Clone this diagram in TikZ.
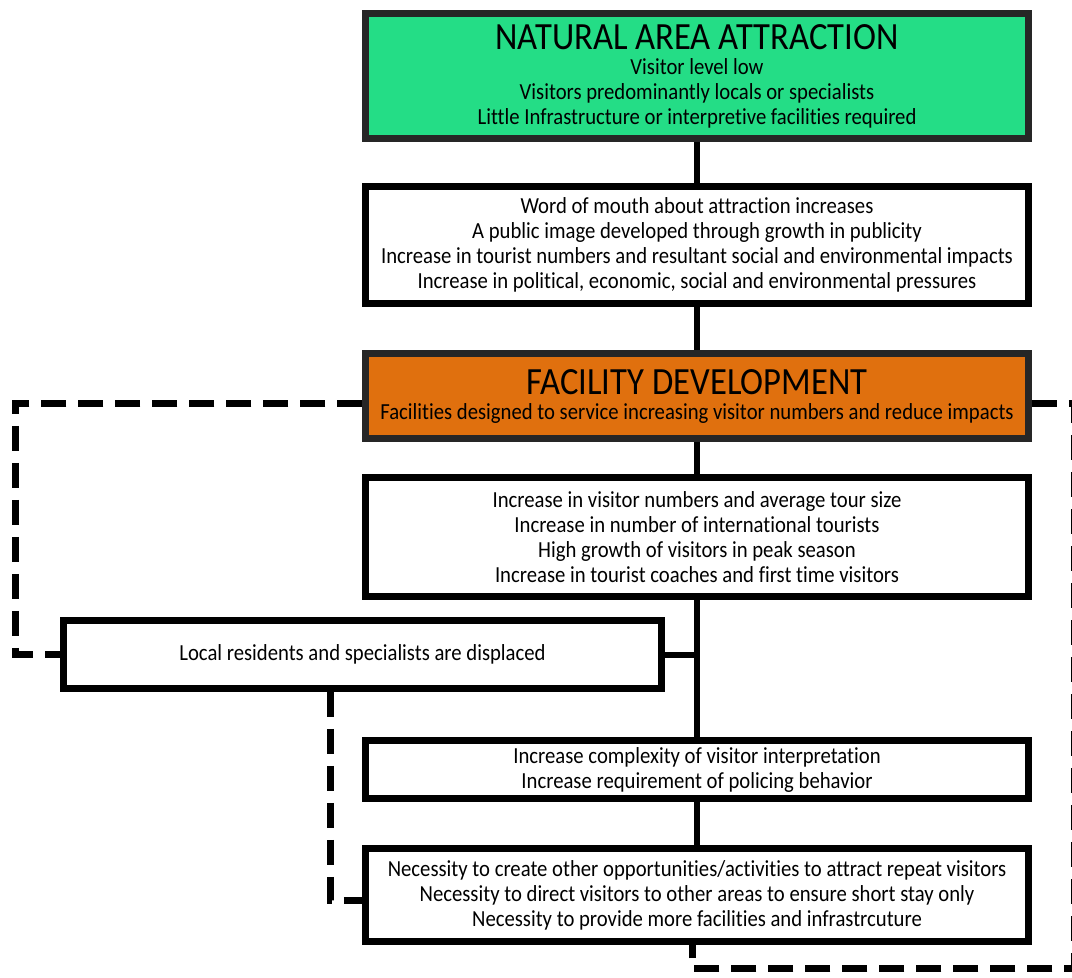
\documentclass[tikz,border=0pt]{standalone}
\usepackage{fontspec}
\setmainfont{Carlito}[FakeStretch=0.9, Ligatures=NoCommon]
\usetikzlibrary{positioning}

\definecolor{natgreen}{RGB}{36,221,134}
\definecolor{devorange}{RGB}{224,112,14}

\tikzset{
  box/.style={draw=black, line width=6.5pt, fill=white, align=center, inner sep=0pt,
    minimum width=663pt, font=\fontsize{23}{25}\selectfont},
  link/.style={line width=6pt},
  dashlink/.style={line width=7pt, dash pattern=on 25pt off 12pt}
}
\newcommand{\boxtitle}[1]{{\fontsize{38.5}{38}\selectfont #1}}

\begin{document}
\begin{tikzpicture}[x=1pt,y=-1pt]
  \useasboundingbox (0,0) rectangle (1072,978);
  \fill[white] (0,0) rectangle (1072,978);

  \node[box, fill=natgreen, draw=black!85, minimum height=125pt] (nat) at (697,76)
    {\boxtitle{NATURAL AREA ATTRACTION}\\Visitor level low\\Visitors predominantly locals or specialists\\Little Infrastructure or interpretive facilities required};
  \node[box, minimum height=117pt] (word) at (697,245)
    {Word of mouth about attraction increases\\A public image developed through growth in publicity\\Increase in tourist numbers and resultant social and environmental impacts\\Increase in political, economic, social and environmental pressures};
  \node[box, fill=devorange, draw=black!85, minimum height=85pt] (dev) at (697,396)
    {\boxtitle{FACILITY DEVELOPMENT}\\Facilities designed to service increasing visitor numbers and reduce impacts};
  \node[box, minimum height=119pt] (growth) at (697,537)
    {Increase in visitor numbers and average tour size\\Increase in number of international tourists\\High growth of visitors in peak season\\Increase in tourist coaches and first time visitors};
  \node[box, minimum width=598pt, minimum height=68pt] (local) at (362.5,654.5)
    {Local residents and specialists are displaced};
  \node[box, minimum height=58pt] (interp) at (697,769.5)
    {Increase complexity of visitor interpretation\\Increase requirement of policing behavior};
  \node[box, minimum height=93pt] (need) at (697,895)
    {Necessity to create other opportunities/activities to attract repeat visitors\\Necessity to direct visitors to other areas to ensure short stay only\\Necessity to provide more facilities and infrastrcuture};

  \draw[link] (nat) -- (word);
  \draw[link] (word) -- (dev);
  \draw[link] (dev) -- (growth);
  \draw[link] (growth) -- (interp);
  \draw[link] (interp) -- (need);
  \draw[link] (local.east) -- (local.east -| growth.south);

  \coordinate (dl) at (15,403);
  \coordinate (dx) at (330,900);
  \coordinate (dr) at (1074,403);
  \coordinate (dc) at (692,968);
  \draw[dashlink] (dev.west |- dl) -- (dl) |- (local.west);
  \draw[dashlink] (local.south -| dx) -- (dx) -- (need.west |- dx);
  \draw[dashlink] (dev.east |- dr) -- (dr) |- (dc) -- (need.south -| dc);
\end{tikzpicture}
\end{document}
